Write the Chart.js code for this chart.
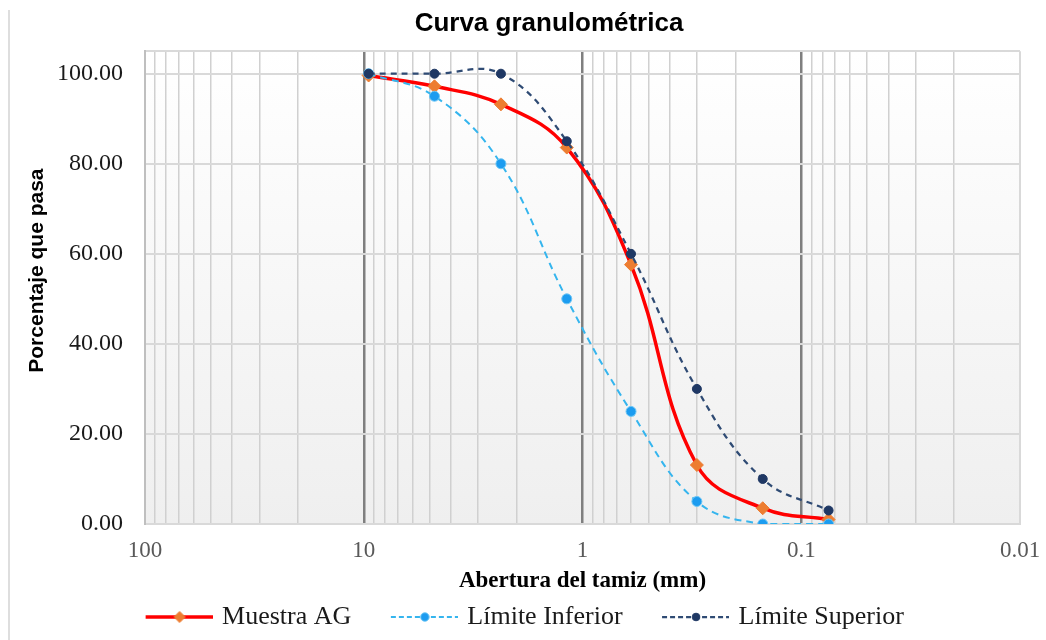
<!DOCTYPE html>
<html>
<head>
<meta charset="utf-8">
<title>Curva granulométrica</title>
<script src="https://cdn.jsdelivr.net/npm/chart.js@4.4.1/dist/chart.umd.min.js"></script>
<style>
  html, body { margin: 0; padding: 0; background: #fff; }
  #wrap { position: relative; width: 1046px; height: 640px; }
  #wrap::before { content: ""; position: absolute; left: 8px; top: 10px; bottom: 0; border-left: 2px solid #dedede; }
  canvas { display: block; }
</style>
</head>
<body>
<div id="wrap"><canvas id="chartCurva" width="1046" height="640"></canvas></div>
<script>
// Sieve openings (mm) and percent passing
const sieves = [9.5, 4.75, 2.36, 1.18, 0.6, 0.3, 0.15, 0.075];
const muestraAG = [99.6, 97.2, 93.2, 83.6, 57.6, 13.1, 3.5, 1.0];
const limiteInferior = [100, 95, 80, 50, 25, 5, 0, 0];
const limiteSuperior = [100, 100, 100, 85, 60, 30, 10, 3];

// Axis ticks
const xDecades = [100, 10, 1, 0.1, 0.01];
const xDecadeLabels = ["100", "10", "1", "0.1", "0.01"];
const yTicks = [0, 20, 40, 60, 80, 100];
const yMax = 105;
const yTitle = "Porcentaje que pasa";

const serif = "'Liberation Serif', 'Times New Roman', serif";
const sans = "'Liberation Sans', Arial, sans-serif";

// log grid: 1..9 in every decade
const xGridValues = [xDecades[0]];
xDecades.slice(1).forEach(d => {
  for (let m = 1; m <= 9; m++) xGridValues.push(+(m * d).toPrecision(6));
});
xGridValues.sort((a, b) => a - b);

const pts = arr => sieves.map((x, i) => ({ x: x, y: arr[i] }));

const datasets = [
  { label: "Muestra AG", data: pts(muestraAG), borderColor: "#ff0000", borderWidth: 3.5,
    pointStyle: "rectRot", pointRadius: 6.5, pointBackgroundColor: "#ed7d31", pointBorderColor: "#ed7d31",
    pointBorderWidth: 1, order: 3 },
  { label: "Límite Inferior", data: pts(limiteInferior), borderColor: "#35b5ee", borderWidth: 2,
    borderDash: [7, 5], pointStyle: "circle", pointRadius: 5, pointBackgroundColor: "#1c9cf0",
    pointBorderColor: "#6cc6f5", pointBorderWidth: 1, order: 2 },
  { label: "Límite Superior", data: pts(limiteSuperior), borderColor: "#2f4b74", borderWidth: 2.25,
    borderDash: [6, 5], pointStyle: "circle", pointRadius: 4.5, pointBackgroundColor: "#1f3864",
    pointBorderColor: "#1f3864", pointBorderWidth: 1, order: 1 }
];
datasets.forEach(d => { d.tension = 0.4; d.fill = false; });

// legend icon: line with the marker in the middle
function legendIcon(ds) {
  const c = document.createElement("canvas");
  c.width = 100; c.height = 20;
  const g = c.getContext("2d");
  g.strokeStyle = ds.borderColor;
  g.lineWidth = ds.borderWidth;
  g.setLineDash(ds.borderDash ? [5, 3] : []);
  g.beginPath(); g.moveTo(33, 10); g.lineTo(100, 10); g.stroke();
  g.setLineDash([]);
  g.fillStyle = ds.pointBackgroundColor;
  g.strokeStyle = ds.pointBorderColor;
  g.lineWidth = 1;
  const r = ds.pointRadius * 0.85, cx = 67, cy = 10;
  g.beginPath();
  if (ds.pointStyle === "rectRot") {
    g.moveTo(cx, cy - r); g.lineTo(cx + r, cy); g.lineTo(cx, cy + r); g.lineTo(cx - r, cy); g.closePath();
  } else {
    g.arc(cx, cy, r, 0, Math.PI * 2);
  }
  g.fill(); g.stroke();
  return c;
}
const icons = datasets.map(legendIcon);

// plot area background + y axis title
const plotBg = {
  id: "plotBg",
  afterLayout(chart) { chart.titleBlock.left += 78; },
  beforeDraw(chart) {
    const { ctx, chartArea: a } = chart;
    const grd = ctx.createLinearGradient(0, a.top, 0, a.bottom);
    grd.addColorStop(0, "#ffffff");
    grd.addColorStop(1, "#efefef");
    ctx.save();
    ctx.fillStyle = grd;
    ctx.fillRect(a.left, a.top, a.right - a.left, a.bottom - a.top);
    ctx.restore();
  },
  afterDraw(chart) {
    const { ctx, chartArea: a } = chart;
    ctx.save();
    ctx.translate(37, (a.top + a.bottom) / 2 - 17);
    ctx.rotate(-Math.PI / 2);
    ctx.font = "bold 21px " + sans;
    ctx.fillStyle = "#000";
    ctx.textAlign = "center";
    ctx.textBaseline = "middle";
    ctx.fillText(yTitle, 0, 0);
    ctx.restore();
  }
};

const ctx = document.getElementById("chartCurva").getContext("2d");
new Chart(ctx, {
  type: "line",
  data: { datasets: datasets },
  plugins: [plotBg],
  options: {
    responsive: false,
    animation: false,
    layout: { padding: { left: 0, right: 26, top: 0, bottom: 0 } },
    plugins: {
      title: { display: true, text: "Curva granulométrica", color: "#000",
        font: { family: sans, size: 26, weight: "bold" }, padding: { top: 8, bottom: 12 } },
      legend: {
        position: "bottom",
        labels: {
          usePointStyle: true, pointStyleWidth: 93, padding: 10, color: "#1a1a1a",
          font: { family: serif, size: 26 },
          sort: (a, b) => a.datasetIndex - b.datasetIndex,
          generateLabels(chart) {
            const items = Chart.defaults.plugins.legend.labels.generateLabels(chart);
            items.forEach(it => { it.pointStyle = icons[it.datasetIndex]; });
            return items;
          }
        }
      },
      tooltip: { enabled: false }
    },
    scales: {
      x: {
        type: "logarithmic", reverse: true, min: xDecades[xDecades.length - 1], max: xDecades[0],
        afterBuildTicks(scale) { scale.ticks = xGridValues.map(v => ({ value: v })); },
        afterFit(scale) { scale.height = 70; },
        ticks: {
          autoSkip: false, maxRotation: 0, minRotation: 0, padding: 13, color: "#595959",
          font: { family: serif, size: 23 },
          callback(v) { const i = xDecades.indexOf(v); return i < 0 ? "" : xDecadeLabels[i]; }
        },
        grid: {
          drawTicks: false,
          color(c) {
            const v = c.tick && c.tick.value;
            if (v === xDecades[0]) return "#bfbfbf";
            if (v === xDecades[xDecades.length - 1]) return "#d9d9d9";
            return xDecades.indexOf(v) >= 0 ? "#7f7f7f" : "#d0d0d0";
          },
          lineWidth(c) {
            const v = c.tick && c.tick.value;
            if (v === xDecades[0] || v === xDecades[xDecades.length - 1]) return 2;
            return xDecades.indexOf(v) >= 0 ? 2.5 : 1.5;
          }
        },
        border: { display: true, color: "#d9d9d9", width: 2 },
        title: { display: true, text: "Abertura del tamiz (mm)", color: "#000",
          font: { family: serif, size: 23, weight: "bold" }, padding: { top: 2, bottom: -1 } }
      },
      y: {
        min: 0, max: yMax,
        afterBuildTicks(scale) { scale.ticks = yTicks.concat([yMax]).map(v => ({ value: v })); },
        afterFit(scale) { scale.width = 145; },
        ticks: {
          padding: 22, color: "#1a1a1a", font: { family: serif, size: 24 },
          callback(v) { return yTicks.indexOf(v) < 0 ? "" : v.toFixed(2); }
        },
        grid: { drawTicks: false, color: "#d9d9d9", lineWidth: 2 },
        border: { display: true, color: "#bfbfbf", width: 2 }
      }
    }
  }
});
</script>
</body>
</html>
